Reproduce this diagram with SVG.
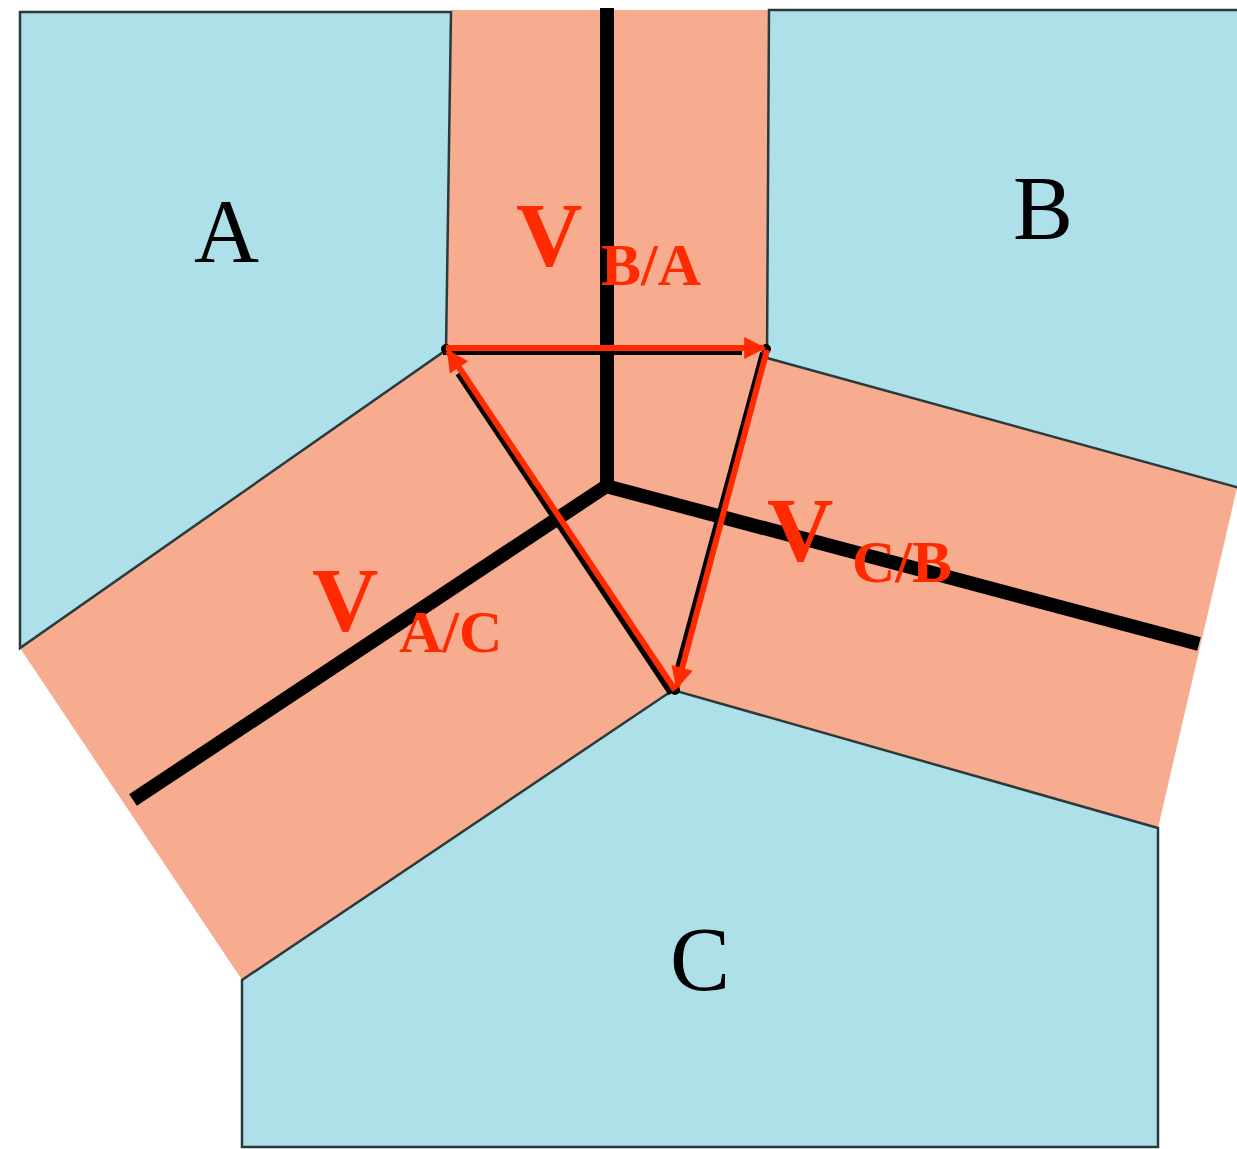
<svg xmlns="http://www.w3.org/2000/svg" width="1237" height="1149" viewBox="0 0 1237 1149">
<defs>
<style>
.blue{fill:#aee0ea;stroke:#2a3a3a;stroke-width:2.5;stroke-linejoin:miter}
.band{fill:#f7ac90;stroke:none}
.axis{stroke:#000;stroke-width:14;fill:none;stroke-linecap:butt}
.shadow{stroke:#000;stroke-width:8;fill:none}
.vec{stroke:#ff2a00;stroke-width:6;fill:none}
.lbl{font-size:90px;fill:#000}
.vl{font-weight:bold;fill:#ff2a00}
</style>
<marker id="ah" viewBox="0 0 10 10" refX="9" refY="5" markerWidth="28" markerHeight="22" markerUnits="userSpaceOnUse" orient="auto">
<path d="M0,0 L10,5 L0,10 z" fill="#ff2a00"/>
</marker>
</defs>
<g id="band">
<polygon class="band" points="451,10 769,10 767,350 1237,488 1158,828 673,690 242,980 20,648 446,350"/>
</g>
<g id="A">
<polygon class="blue" points="20,12 451,12 446,350 20,648"/>
<text class="lbl" font-family="Liberation Serif, Times New Roman, serif" x="194" y="262">A</text>
</g>
<g id="B">
<polygon class="blue" points="769,10 1240,10 1240,488 767,358"/>
<text class="lbl" font-family="Liberation Serif, Times New Roman, serif" x="1013" y="239">B</text>
</g>
<g id="C">
<polygon class="blue" points="242,980 673,690 1158,828 1158,1147 242,1147"/>
<text class="lbl" font-family="Liberation Serif, Times New Roman, serif" x="670" y="990">C</text>
</g>
<g id="axes">
<line class="axis" x1="607" y1="8" x2="607" y2="485"/>
<line class="axis" x1="602" y1="485" x2="1199" y2="644"/>
<line class="axis" x1="611" y1="483" x2="133" y2="800"/>
</g>
<g id="connectors">
<g transform="translate(-3,3)">
<line class="shadow" x1="446" y1="348" x2="745" y2="348"/>
<line class="shadow" x1="767" y1="350" x2="682" y2="665"/>
<line class="shadow" x1="675" y1="690" x2="462" y2="370"/>
</g>
<circle cx="446" cy="349" r="5" fill="#000"/>
<circle cx="766" cy="349" r="5" fill="#000"/>
<circle cx="675" cy="690" r="5" fill="#000"/>
<line class="vec" x1="446" y1="348" x2="764" y2="348" marker-end="url(#ah)"/>
<line class="vec" x1="767" y1="350" x2="677" y2="687" marker-end="url(#ah)"/>
<line class="vec" x1="675" y1="690" x2="448" y2="351" marker-end="url(#ah)"/>
</g>
<g id="labels">
<text class="vl" font-family="Liberation Serif, Times New Roman, serif" x="516" y="266" font-size="92">V</text>
<text class="vl" font-family="Liberation Serif, Times New Roman, serif" x="601" y="285" font-size="60">B/A</text>
<text class="vl" font-family="Liberation Serif, Times New Roman, serif" x="767" y="561" font-size="92">V</text>
<text class="vl" font-family="Liberation Serif, Times New Roman, serif" x="852" y="582" font-size="60">C/B</text>
<text class="vl" font-family="Liberation Serif, Times New Roman, serif" x="312" y="631" font-size="92">V</text>
<text class="vl" font-family="Liberation Serif, Times New Roman, serif" x="399" y="652" font-size="60">A/C</text>
</g>
</svg>
